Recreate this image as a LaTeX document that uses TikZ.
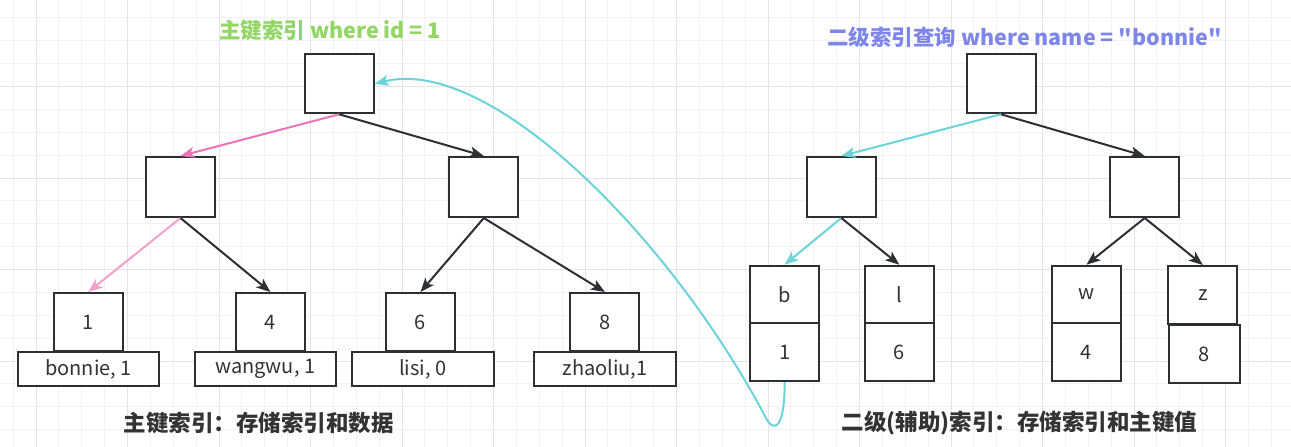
\documentclass[tikz,border=0pt]{standalone}
\usepackage{fontspec}
\setmainfont{Noto Sans CJK SC}[Ligatures=TeXOff]
\usetikzlibrary{arrows.meta}
\definecolor{gridminor}{RGB}{242,242,242}
\definecolor{gridmajor}{RGB}{228,228,228}
\definecolor{boxline}{RGB}{44,47,51}
\definecolor{txt}{RGB}{51,51,51}
\definecolor{tgreen}{RGB}{146,214,102}
\definecolor{tblue}{RGB}{126,134,234}
\definecolor{pinkA}{RGB}{236,116,182}
\definecolor{pinkB}{RGB}{242,160,204}
\definecolor{cyanl}{RGB}{108,212,216}
\begin{document}
\begin{tikzpicture}[x=1pt,y=-1pt,
  box/.style={draw=boxline,line width=2pt,fill=white,inner sep=0pt,minimum width=69pt,minimum height=59pt,
    text=txt,font=\fontsize{20}{22}\selectfont},
  wide/.style={box,minimum width=141pt,minimum height=34pt},
  cell/.style={box,minimum height=57pt},
  edge/.style={line width=2pt,draw=boxline,-{Stealth[length=14pt,width=11pt,inset=3.5pt]}},
  title/.style={font=\fontsize{21.5}{24}\selectfont\bfseries},
  caption/.style={font=\fontsize{22.5}{25}\selectfont\bfseries,text=txt}
]
\useasboundingbox (0,0) rectangle (1291,447);
\fill[white] (0,0) rectangle (1291,447);
% grid
\foreach \i in {0,...,56} \draw[gridminor,line width=1pt] ({13.125+22.875*\i},0) -- ++(0,447);
\foreach \j in {0,...,19} \draw[gridminor,line width=1pt] (0,{17.9+22.875*\j}) -- ++(1291,0);
\foreach \i in {0,...,14} \draw[gridmajor,line width=1pt] ({36+91.5*\i},0) -- ++(0,447);
\foreach \j in {0,...,4} \draw[gridmajor,line width=1pt] (0,{-5+91.5*\j}) -- ++(1291,0);

% titles
\node[title,text=tgreen] (tl) at (330,30) {主键索引 where id = 1};
\node[title,text=tblue] (tr) at (1024.5,37) {二级索引查询 where name = "bonnie"};
\node[caption] (cl) at (258.5,423) {主键索引：存储索引和数据};
\node[caption] (cr) at (1019.5,423) {二级(辅助)索引：存储索引和主键值};

% left tree
\node[box] (lroot) at (339.2,83.8) {};
\node[box,minimum height=60pt] (la) at (180.5,187) {};
\node[box,minimum height=60pt] (lb) at (483.8,187) {};
\node[box,minimum height=58pt] (k1) at (88.3,322) {1};
\node[box,minimum height=58pt] (k4) at (270.4,322) {4};
\node[box,minimum height=58pt] (k6) at (420.5,322) {6};
\node[box,minimum height=58pt] (k8) at (604.9,322) {8};
\node[wide] (d1) at (88.6,369) {bonnie, 1};
\node[wide] (d4) at (265.3,369) {wangwu, 1};
\node[wide,minimum width=142pt] (d6) at (422.8,369) {lisi, 0};
\node[wide,minimum width=142pt] (d8) at (605,369) {zhaoliu,1};

% right tree
\node[box] (rroot) at (1001,83.8) {};
\node[box,minimum height=60pt] (ra) at (841.3,187) {};
\node[box,minimum height=60pt] (rb) at (1144.7,187) {};
\node[cell] (sb) at (784.6,294.2) {b};
\node[cell,minimum height=58.5pt] (s1) at (784.6,351.9) {1};
\node[cell] (sl) at (899.3,294.2) {l};
\node[cell,minimum height=58.5pt] (s6) at (899.3,351.9) {6};
\node[cell] (sw) at (1086.5,294.2) {w};
\node[cell,minimum height=58.5pt] (s4) at (1086.5,351.9) {4};
\node[cell,minimum height=58pt] (sz) at (1202.8,295) {z};
\node[cell,minimum width=71pt,minimum height=58pt] (s8) at (1204.5,354) {8};

% left edges
\draw[edge,draw=pinkA,-{Stealth[length=14pt,width=11pt,inset=3.5pt,fill=pinkA]}] (lroot.south) -- (la.north);
\draw[edge] (lroot.south) -- (lb.north);
\draw[edge,draw=pinkB,-{Stealth[length=14pt,width=11pt,inset=3.5pt,fill=pinkB]}] (la.south) -- (k1.north);
\draw[edge] (la.south) -- (k4.north);
\draw[edge] (lb.south) -- (k6.north);
\draw[edge] (lb.south) -- (k8.north);

% right edges
\draw[edge,draw=cyanl,-{Stealth[length=14pt,width=11pt,inset=3.5pt,fill=cyanl]}] (rroot.south) -- (ra.north);
\draw[edge] (rroot.south) -- (rb.north);
\draw[edge,draw=cyanl,-{Stealth[length=14pt,width=11pt,inset=3.5pt,fill=cyanl]}] (ra.south) -- (sb.north);
\draw[edge] (ra.south) -- (sl.north);
\draw[edge] (rb.south) -- (sw.north);
\draw[edge] (rb.south) -- (sz.north);

% lookup back to primary key index
\coordinate (bend) at (766,418);
\draw[line width=2pt,draw=cyanl,-{Stealth[length=14pt,width=11pt,inset=3.5pt,fill=cyanl]}]
  (s1.south) .. controls (785,425) and (775,435) .. (bend)
  .. controls (671,238) and (490,55) .. (lroot.east);
\end{tikzpicture}
\end{document}
